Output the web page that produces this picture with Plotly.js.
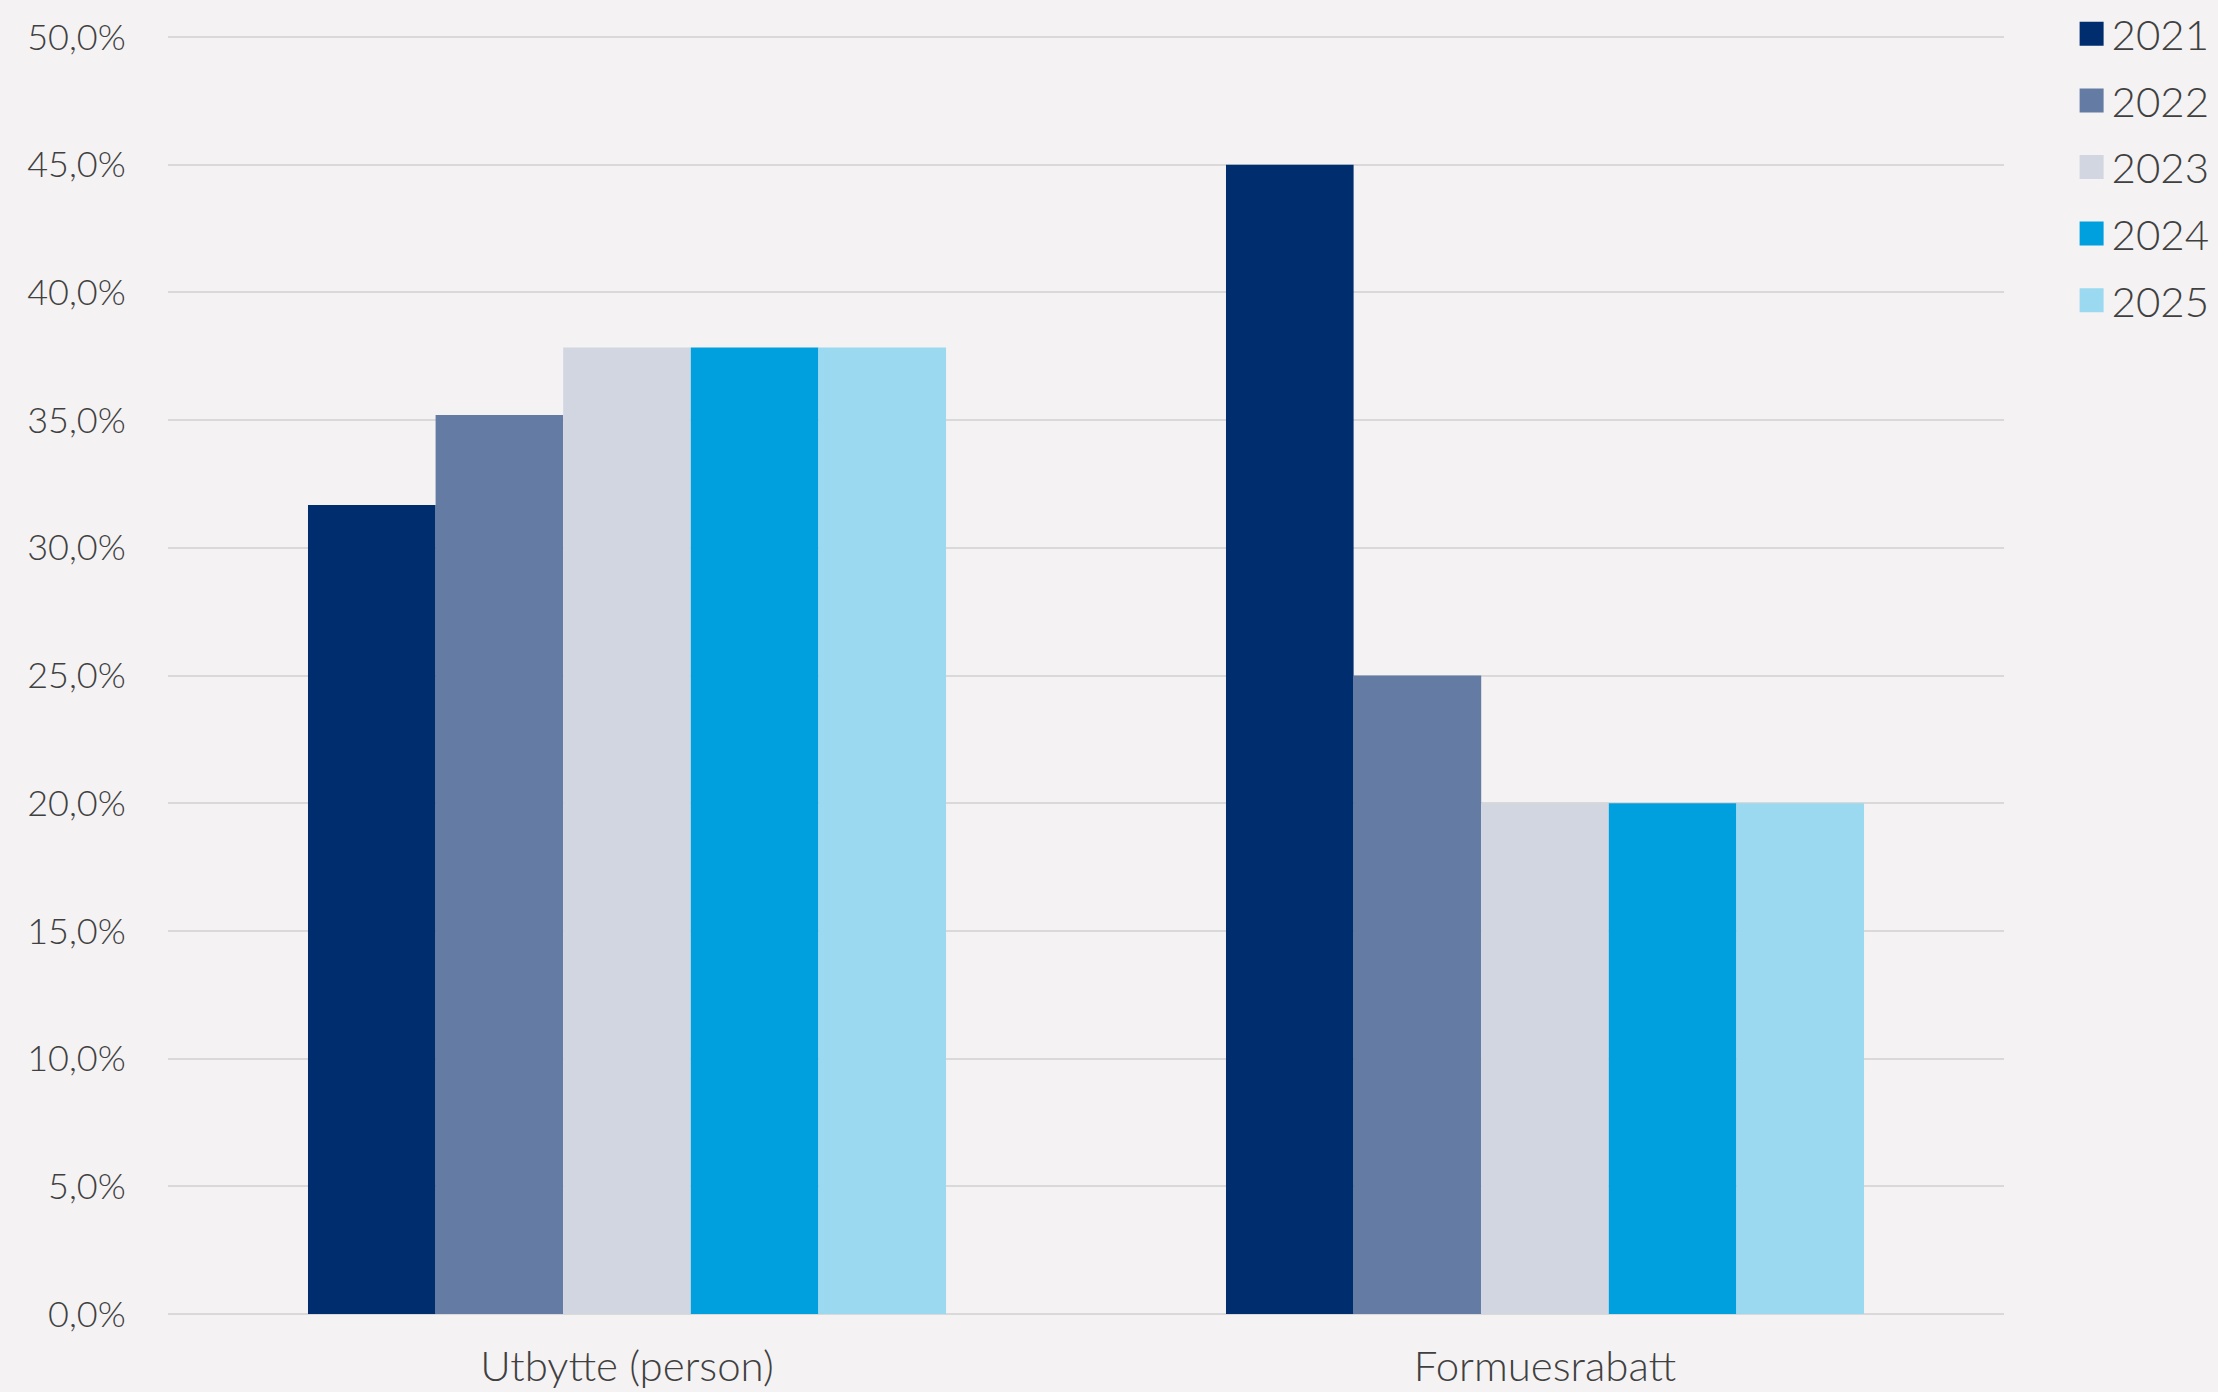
<!DOCTYPE html>
<html>
<head>
<meta charset="utf-8">
<script src="https://cdn.plot.ly/plotly-3.0.1.min.js"></script>
<style>
html,body{margin:0;padding:0;background:#f4f2f3;}
#chart{width:2218px;height:1392px;}
</style>
</head>
<body>
<div id="chart"></div>
<script>
const categories = ["Utbytte (person)", "Formuesrabatt"];
const years = ["2021", "2022", "2023", "2024", "2025"];
const values2021 = [31.68, 45.0];
const values2022 = [35.2, 25.0];
const values2023 = [37.84, 20.0];
const values2024 = [37.84, 20.0];
const values2025 = [37.84, 20.0];
const seriesValues = [values2021, values2022, values2023, values2024, values2025];
const colors = ["#002d6e", "#647ca4", "#d1d6e0", "#00a0df", "#9bd9f1"];
const yTicks = [0, 5, 10, 15, 20, 25, 30, 35, 40, 45, 50];
const yTickText = ["0,0%", "5,0%", "10,0%", "15,0%", "20,0%", "25,0%", "30,0%", "35,0%", "40,0%", "45,0%", "50,0%"];

const FONT = "Lato, 'Open Sans', sans-serif";
const TXT = "#404040";

const traces = years.map((y, i) => ({
  type: "bar",
  name: y,
  legendgroup: y,
  x: categories,
  y: seriesValues[i],
  marker: {color: colors[i], line: {width: 0}},
  hoverinfo: "skip"
}));

const layout = {
  width: 2218,
  height: 1392,
  paper_bgcolor: "#f4f2f3",
  plot_bgcolor: "#f4f2f3",
  margin: {l: 168, r: 214, t: 35, b: 78, pad: 0},
  barmode: "group",
  bargap: 0.305,
  bargroupgap: 0,
  font: {family: FONT, color: TXT, weight: 300},
  xaxis: {
    type: "category",
    showgrid: false,
    showline: false,
    zeroline: false,
    ticks: "outside",
    ticklen: 16,
    tickcolor: "rgba(0,0,0,0)",
    tickfont: {family: FONT, size: 42, color: TXT, weight: 300}
  },
  yaxis: {
    range: [0, 50.08],
    tickvals: yTicks,
    ticktext: yTickText,
    showgrid: true,
    gridcolor: "#d9d9d9",
    gridwidth: 2,
    zeroline: true,
    zerolinecolor: "#d9d9d9",
    zerolinewidth: 2,
    showline: false,
    ticks: "outside",
    ticklen: 34,
    tickcolor: "rgba(0,0,0,0)",
    tickfont: {family: FONT, size: 36, color: TXT, weight: 300}
  },
  showlegend: true,
  legend: {
    xref: "container",
    yref: "container",
    x: 0.934,
    xanchor: "left",
    y: 1.0,
    yanchor: "top",
    bgcolor: "rgba(0,0,0,0)",
    font: {family: FONT, size: 42, color: TXT, weight: 300},
    itemclick: false,
    itemdoubleclick: false,
    tracegroupgap: 9
  }
};

Plotly.newPlot("chart", traces, layout, {displayModeBar: false, staticPlot: true}).then(() => {
  document.querySelectorAll(".legend .legendpoints path").forEach(p => {
    p.setAttribute("d", "M12,12H-12V-12H12Z");
  });
});
</script>
</body>
</html>
